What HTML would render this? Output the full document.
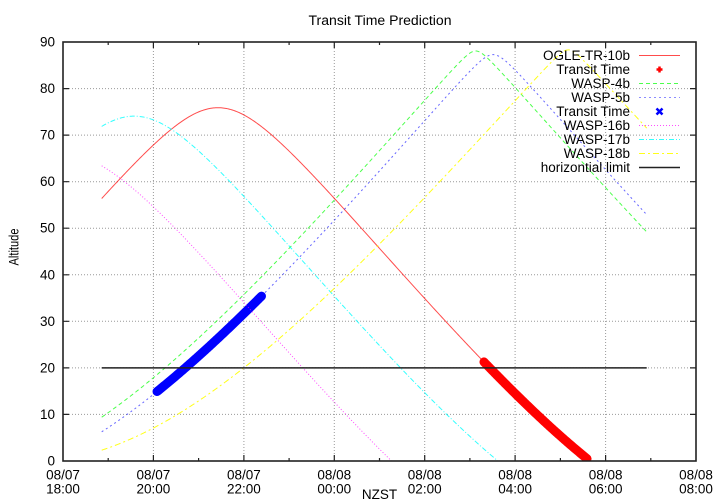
<!DOCTYPE html>
<html>
<head>
<meta charset="utf-8">
<style>
html,body{margin:0;padding:0;background:#fff;width:720px;height:504px;overflow:hidden;}
svg{display:block;}
</style>
</head>
<body>
<svg id="chart" width="720" height="504" viewBox="0 0 720 504" xmlns="http://www.w3.org/2000/svg" font-family="'Liberation Sans', Arial, sans-serif" font-size="13.5" fill="#000">
<rect width="720" height="504" fill="#fff"/>
<defs>
<clipPath id="plotclip"><rect x="63" y="42" width="633" height="419"/></clipPath>
</defs>

<!-- grid -->
<g stroke="#999" stroke-width="1" stroke-dasharray="1,2" fill="none">
<line x1="63" x2="696" y1="414.4" y2="414.4"/>
<line x1="63" x2="696" y1="367.9" y2="367.9"/>
<line x1="63" x2="696" y1="321.3" y2="321.3"/>
<line x1="63" x2="696" y1="274.8" y2="274.8"/>
<line x1="63" x2="696" y1="228.2" y2="228.2"/>
<line x1="63" x2="696" y1="181.7" y2="181.7"/>
<line x1="63" x2="696" y1="135.1" y2="135.1"/>
<line x1="63" x2="696" y1="88.6" y2="88.6"/>
<line y1="42" y2="461" x1="153.4" x2="153.4"/>
<line y1="42" y2="461" x1="243.9" x2="243.9"/>
<line y1="42" y2="461" x1="334.3" x2="334.3"/>
<line y1="42" y2="461" x1="424.7" x2="424.7"/>
<line y1="42" y2="461" x1="515.1" x2="515.1"/>
<line y1="42" y2="461" x1="605.6" x2="605.6"/>
</g>

<!-- curves inserted here -->
<g id="curves" clip-path="url(#plotclip)" fill="none"></g>

<!-- border -->
<rect x="63" y="42" width="633" height="419" fill="none" stroke="#222" stroke-width="1.6"/>

<!-- ticks -->
<g stroke="#222" stroke-width="1.2" fill="none">
<path d="M63,414.4h6M63,367.9h6M63,321.3h6M63,274.8h6M63,228.2h6M63,181.7h6M63,135.1h6M63,88.6h6"/>
<path d="M696,414.4h-6M696,367.9h-6M696,321.3h-6M696,274.8h-6M696,228.2h-6M696,181.7h-6M696,135.1h-6M696,88.6h-6"/>
<path d="M153.4,461v-6M243.9,461v-6M334.3,461v-6M424.7,461v-6M515.1,461v-6M605.6,461v-6"/>
<path d="M153.4,42v6M243.9,42v6M334.3,42v6M424.7,42v6M515.1,42v6M605.6,42v6"/>
<path d="M108.2,461v-3M198.6,461v-3M289.1,461v-3M379.5,461v-3M469.9,461v-3M560.4,461v-3M650.8,461v-3"/>
<path d="M108.2,42v3M198.6,42v3M289.1,42v3M379.5,42v3M469.9,42v3M560.4,42v3M650.8,42v3"/>
</g>

<!-- y labels -->
<g text-anchor="end">
<text x="55" y="465.5">0</text>
<text x="55" y="418.9">10</text>
<text x="55" y="372.4">20</text>
<text x="55" y="325.8">30</text>
<text x="55" y="279.3">40</text>
<text x="55" y="232.7">50</text>
<text x="55" y="186.2">60</text>
<text x="55" y="139.6">70</text>
<text x="55" y="93.1">80</text>
<text x="55" y="46.5">90</text>
</g>

<!-- x labels -->
<g text-anchor="middle">
<text x="63" y="479.5">08/07</text><text x="63" y="493.5">18:00</text>
<text x="153.4" y="479.5">08/07</text><text x="153.4" y="493.5">20:00</text>
<text x="243.9" y="479.5">08/07</text><text x="243.9" y="493.5">22:00</text>
<text x="334.3" y="479.5">08/08</text><text x="334.3" y="493.5">00:00</text>
<text x="424.7" y="479.5">08/08</text><text x="424.7" y="493.5">02:00</text>
<text x="515.1" y="479.5">08/08</text><text x="515.1" y="493.5">04:00</text>
<text x="605.6" y="479.5">08/08</text><text x="605.6" y="493.5">06:00</text>
<text x="696" y="479.5">08/08</text><text x="696" y="493.5">08:00</text>
</g>

<!-- titles -->
<text x="380" y="25" text-anchor="middle" textLength="143" lengthAdjust="spacingAndGlyphs">Transit Time Prediction</text>
<text x="379.5" y="499" text-anchor="middle">NZST</text>
<text transform="translate(18.5,247) rotate(-90)" text-anchor="middle" font-size="14" textLength="37" lengthAdjust="spacingAndGlyphs">Altitude</text>

<!-- legend -->
<g text-anchor="end">
<text x="630" y="60">OGLE-TR-10b</text>
<text x="630" y="74">Transit Time</text>
<text x="630" y="88">WASP-4b</text>
<text x="630" y="102">WASP-5b</text>
<text x="630" y="116">Transit Time</text>
<text x="630" y="130">WASP-16b</text>
<text x="630" y="144">WASP-17b</text>
<text x="630" y="158">WASP-18b</text>
<text x="630" y="172">horizontial limit</text>
</g>
<g fill="none">
<line x1="639" x2="680" y1="55.5" y2="55.5" stroke="#ff0000" stroke-opacity="0.7" stroke-width="1"/>
<path d="M656.5,69.5h6M659.5,66.5v6" stroke="#ff0000" stroke-width="2.5"/>
<line x1="639" x2="680" y1="83.5" y2="83.5" stroke="#00ff00" stroke-opacity="0.7" stroke-width="1" stroke-dasharray="4,3"/>
<line x1="639" x2="680" y1="97.5" y2="97.5" stroke="#4040ff" stroke-opacity="0.6" stroke-width="1" stroke-dasharray="2,3"/>
<path d="M656.5,108.5l6,6M662.5,108.5l-6,6" stroke="#0000ff" stroke-width="2.5"/>
<line x1="639" x2="680" y1="125.5" y2="125.5" stroke="#ff00ff" stroke-opacity="0.7" stroke-width="1" stroke-dasharray="1,2"/>
<line x1="639" x2="680" y1="139.5" y2="139.5" stroke="#00ffff" stroke-opacity="0.8" stroke-width="1" stroke-dasharray="5,2,1,2"/>
<line x1="639" x2="680" y1="153.5" y2="153.5" stroke="#ffff00" stroke-opacity="0.9" stroke-width="1" stroke-dasharray="6,3,2,3"/>
<line x1="639" x2="680" y1="167.5" y2="167.5" stroke="#222" stroke-width="1.5"/>
</g>

<script>
(function(){
  var NS = "http://www.w3.org/2000/svg";
  var g = document.getElementById("curves");
  var D = Math.PI/180;
  var phi = -43.99*D;
  function lst(t){ return 17.858 + 1.0027*(t-3.43); }
  function alt(ra,dec,t){
    var H = (lst(t)-ra)*15*D, d = dec*D;
    return Math.asin(Math.sin(phi)*Math.sin(d)+Math.cos(phi)*Math.cos(d)*Math.cos(H))/D;
  }
  function X(t){ return 63 + t*45.214; }
  function Y(a){ return 461 - a*4.6556; }
  function path(ra,dec,ta,tb){
    var s = "", n = Math.ceil((tb-ta)/0.02), prevA = null, prevT = null, open = false;
    for (var i=0;i<=n;i++){
      var t = ta + (tb-ta)*i/n;
      var a = alt(ra,dec,t);
      if (a >= 0){
        if (!open){
          if (prevA !== null && prevA < 0){
            var tc = prevT + (t-prevT)*(0-prevA)/(a-prevA);
            s += "M" + X(tc).toFixed(2) + "," + Y(0).toFixed(2) + "L";
          } else {
            s += "M";
          }
          open = true;
        } else {
          s += "L";
        }
        s += X(t).toFixed(2) + "," + Y(a).toFixed(2);
      } else if (open){
        var tc2 = prevT + (t-prevT)*(0-prevA)/(a-prevA);
        s += "L" + X(tc2).toFixed(2) + "," + Y(0).toFixed(2);
        open = false;
      }
      prevA = a; prevT = t;
    }
    return s;
  }
  function add(d,color,w,dash,cap,op){
    if (!d) return;
    var p = document.createElementNS(NS,"path");
    p.setAttribute("d",d);
    p.setAttribute("stroke",color);
    p.setAttribute("stroke-width",w);
    p.setAttribute("fill","none");
    if (op) p.setAttribute("stroke-opacity",op);
    if (dash) p.setAttribute("stroke-dasharray",dash);
    if (cap) p.setAttribute("stroke-linecap",cap);
    p.setAttribute("stroke-linejoin","round");
    g.appendChild(p);
  }
  var t0 = 0.856, t1 = 12.91;
  var OG = [17.8578,-29.876], W4=[23.5709,-42.0614], W5=[23.9566,-41.277],
      W16=[14.312,-20.276], W17=[15.9975,-28.062], W18=[1.6236,-45.678];
  add(path(OG[0],OG[1],t0,t1),"#ff0000",1,"",null,0.7);
  add(path(OG[0],OG[1],9.31,11.59),"#ff0000",9,"","round");
  add(path(W4[0],W4[1],t0,t1),"#00ff00",1,"4,3",null,0.7);
  add(path(W5[0],W5[1],t0,t1),"#0000ff",1,"2,3",null,0.6);
  add(path(W5[0],W5[1],2.08,4.39),"#0000ff",9,"","round");
  add(path(W16[0],W16[1],t0,t1),"#ff00ff",1,"1,2",null,0.7);
  add(path(W17[0],W17[1],t0,t1),"#00ffff",1,"5,2,1,2",null,0.8);
  add(path(W18[0],W18[1],t0,t1),"#ffff00",1,"6,3,2,3",null,0.9);
  add("M"+X(t0).toFixed(2)+","+Y(20).toFixed(2)+"L"+X(t1).toFixed(2)+","+Y(20).toFixed(2),"#222",1.5,"");
})();
</script>
</svg>
</body>
</html>
